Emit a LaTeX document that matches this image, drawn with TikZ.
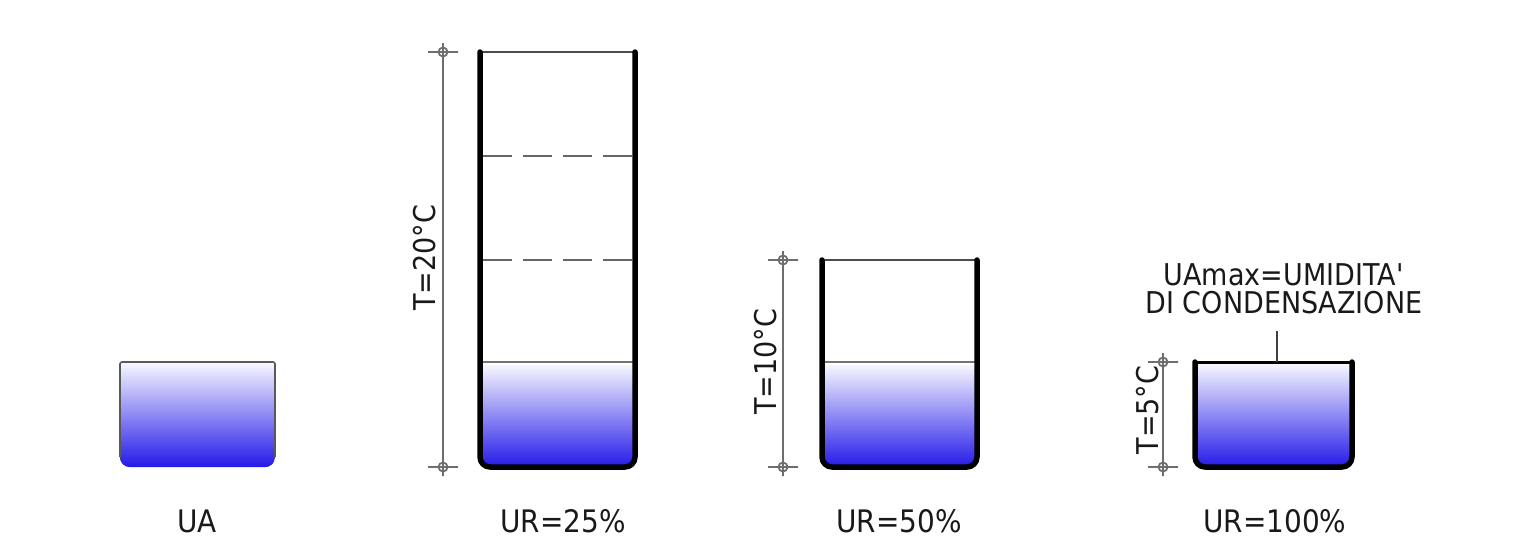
\documentclass[tikz,border=0pt]{standalone}
\usepackage{fontspec}
\setmainfont{DejaVu Sans}[FakeStretch=0.9]
\definecolor{wtop}{RGB}{246,246,255}
\definecolor{wmid}{RGB}{128,124,242}
\definecolor{wbot}{RGB}{36,26,232}
\definecolor{dimgrey}{RGB}{110,110,110}
\definecolor{txt}{RGB}{25,25,25}
\tikzset{
  wall/.style={line width=5.5pt, line cap=round, line join=round, rounded corners=10pt},
  rimline/.style={draw=black!70, line width=2pt},
  waterline/.style={draw=black!55, line width=2pt},
  dashline/.style={draw=black!60, line width=2.5pt, dash pattern=on 29pt off 11pt},
  water/.style={top color=wtop, middle color=wmid, bottom color=wbot},
  dimline/.style={draw=dimgrey, line width=1.6pt},
  lbl/.style={font=\fontsize{30}{28}\selectfont, text=txt, inner sep=0pt},
  botlbl/.style={font=\fontsize{31}{34}\selectfont, text=txt, inner sep=0pt},
}
\newcommand\dimmarker[1]{%
  \draw[dimgrey, line width=1.8pt, shift={(#1)}] (0,0) circle[radius=4.5pt]
    (-15,0) -- (15,0) (0,-9) -- (0,9);}
\begin{document}
\begin{tikzpicture}[x=1pt,y=-1pt]
\useasboundingbox (0,0) rectangle (1532,538);

% ---------- container UA ----------
\begin{scope}
  \clip[rounded corners=10pt] (120,300) -- (120,467) -- (275,467) -- (275,300) -- cycle;
  \fill[water] (120,363) rectangle (275,467);
\end{scope}
\draw[black!65, line width=1.6pt, rounded corners=2pt] (120,457) -- (120,362) -- (275,362) -- (275,457);
\node[botlbl] (ua) at (197,521) {UA};

% ---------- container UR=25% ----------
\coordinate (c2top) at (443,52);
\coordinate (c2bot) at (443,467);
\begin{scope}
  \clip[rounded corners=10pt] (480,300) -- (480,467) -- (635,467) -- (635,300) -- cycle;
  \fill[water] (480,365) rectangle (635,467);
\end{scope}
\draw[rimline] (480,52) -- (635,52);
\draw[dashline] (483,156) -- (633,156);
\draw[dashline] (483,260) -- (633,260);
\draw[waterline] (480,362) -- (635,362);
\draw[wall] (480,52) -- (480,467) -- (635,467) -- (635,52);
\draw[dimline] (c2top) -- (c2bot);
\dimmarker{c2top}
\dimmarker{c2bot}
\node[lbl, rotate=90] (t20) at (425,258) {T=20°C};
\node[botlbl] (ur25) at (563,521) {UR=25\%};

% ---------- container UR=50% ----------
\coordinate (c3top) at (783,260);
\coordinate (c3bot) at (783,467);
\begin{scope}
  \clip[rounded corners=10pt] (822,300) -- (822,467) -- (977,467) -- (977,300) -- cycle;
  \fill[water] (822,365) rectangle (977,467);
\end{scope}
\draw[rimline] (822,260) -- (977,260);
\draw[waterline] (822,362) -- (977,362);
\draw[wall] (822,260) -- (822,467) -- (977,467) -- (977,260);
\draw[dimline] (c3top) -- (c3bot);
\dimmarker{c3top}
\dimmarker{c3bot}
\node[lbl, rotate=90] (t10) at (766,362) {T=10°C};
\node[botlbl] (ur50) at (899,521) {UR=50\%};

% ---------- container UR=100% ----------
\coordinate (c4top) at (1163,362);
\coordinate (c4bot) at (1163,467);
\coordinate (lead4) at (1277,331);
\coordinate (rim4) at (1277,362);
\begin{scope}
  \clip[rounded corners=10pt] (1195,300) -- (1195,467) -- (1352,467) -- (1352,300) -- cycle;
  \fill[water] (1195,364) rectangle (1352,467);
\end{scope}
\draw[black, line width=3pt] (1195,362) -- (1352,362);
\draw[wall] (1195,362) -- (1195,467) -- (1352,467) -- (1352,362);
\draw[dimline] (c4top) -- (c4bot);
\dimmarker{c4top}
\dimmarker{c4bot}
\node[lbl, rotate=90] (t5) at (1148,410) {T=5°C};
\node[lbl, align=center] (uamax) at (1284,289) {UAmax=UMIDITA\textquotesingle\\DI CONDENSAZIONE};
\draw[black!75, line width=1.6pt] (lead4) -- (rim4);
\node[botlbl] (ur100) at (1275,521) {UR=100\%};
\end{tikzpicture}
\end{document}
